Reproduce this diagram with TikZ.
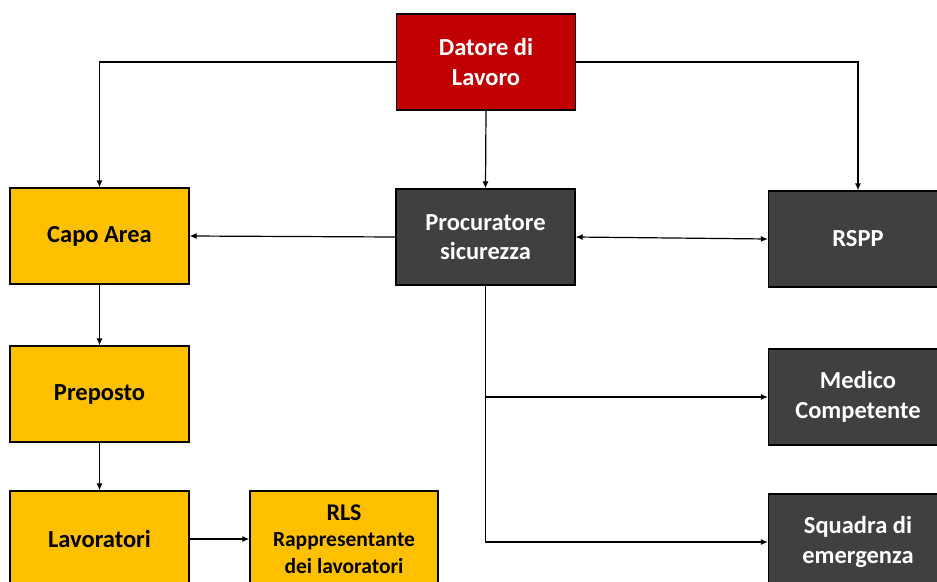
\documentclass[tikz,border=0pt]{standalone}
\usepackage{fontspec}
\setmainfont{Carlito}
\usepackage{xcolor}
\usetikzlibrary{positioning, arrows.meta}
\definecolor{datorered}{HTML}{C00000}
\definecolor{procgray}{HTML}{404040}
\definecolor{areayellow}{HTML}{FFC000}
\tikzset{
  box/.style={rectangle, draw=black, line width=1.2pt, minimum width=179pt, minimum height=96pt, align=center, font=\bfseries\fontsize{24.5}{29.5}\selectfont},
  redbox/.style={box, fill=datorered, text=white},
  graybox/.style={box, fill=procgray, text=white},
  yellowbox/.style={box, fill=areayellow, text=black},
  link/.style={line width=1.2pt},
  >={Latex[length=7pt, width=6pt]}
}
\begin{document}
\begin{tikzpicture}[x=1pt, y=-1pt]
\useasboundingbox (0, 0) rectangle (937, 581);
\clip (0, 0) rectangle (937, 581);
\node [redbox] (datore) at (486, 62) {Datore di\\Lavoro};
\node [graybox] (procuratore) at (485.5, 237) {Procuratore\\sicurezza};
\node [yellowbox] (capo) at (99.5, 236) {Capo Area};
\node [graybox] (rspp) at (858, 239) {RSPP};
\node [yellowbox] (preposto) at (99.5, 394) {Preposto};
\node [graybox] (medico) at (858, 397) {Medico\\Competente};
\node [yellowbox] (lavoratori) at (99.5, 539) {Lavoratori};
\node [yellowbox, minimum width=188pt, font=\bfseries\fontsize{21.5}{26.5}\selectfont] (rls) at (344, 539) {{\fontsize{24}{26.5}\selectfont RLS}\\Rappresentante\\dei lavoratori};
\node [graybox] (squadra) at (858, 542) {Squadra di\\emergenza};
\draw [link, ->] (datore.west) -| (capo.north);
\draw [link, ->] (datore.east) -| (rspp.north);
\draw [link, ->] (datore.south) -- (procuratore.north);
\draw [link, ->] (procuratore.west) -- (capo.east);
\draw [link, <->] (procuratore.east) -- (rspp.west);
\draw [link, ->] (procuratore.south) |- (squadra.west);
\coordinate (branch) at (procuratore.south |- medico.west);
\draw [link, ->] (branch) -- (medico.west);
\draw [link, ->] (capo.south) -- (preposto.north);
\draw [link, ->] (preposto.south) -- (lavoratori.north);
\draw [link, ->] (lavoratori.east) -- (rls.west);
\end{tikzpicture}
\end{document}
